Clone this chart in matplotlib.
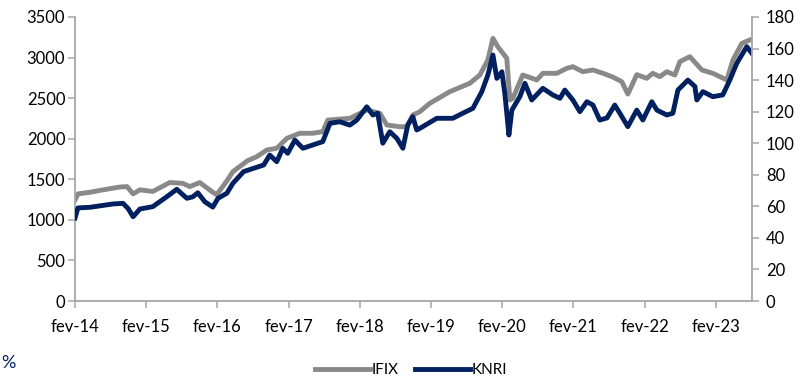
import matplotlib
matplotlib.use("Agg")
import matplotlib.pyplot as plt
import matplotlib.dates as mdates
from matplotlib.ticker import FuncFormatter
import pandas as pd

plt.rcParams['font.family'] = ['Lato', 'DejaVu Sans']

ifix_dates = ["2014-02-01", "2014-02-16", "2014-04-19", "2014-06-25", "2014-09-20", "2014-10-26",
              "2014-11-26", "2014-12-31", "2015-03-07", "2015-06-02", "2015-08-08", "2015-09-13",
              "2015-11-03", "2016-01-09", "2016-01-29", "2016-03-21", "2016-04-21", "2016-07-06",
              "2016-08-22", "2016-10-12", "2016-12-02", "2017-01-23", "2017-03-30", "2017-06-05",
              "2017-07-26", "2017-08-21", "2017-12-12", "2018-03-09", "2018-05-15", "2018-06-20",
              "2018-08-25", "2018-09-30", "2018-10-31", "2018-12-06", "2019-01-26", "2019-05-09",
              "2019-08-19", "2019-10-10", "2019-11-20", "2019-12-16", "2020-01-10", "2020-02-25",
              "2020-03-12", "2020-03-27", "2020-05-17", "2020-07-28", "2020-08-28", "2020-11-08",
              "2020-12-29", "2021-01-29", "2021-03-21", "2021-05-12", "2021-07-03", "2021-08-22",
              "2021-10-07", "2021-11-07", "2021-12-23", "2022-02-12", "2022-03-15", "2022-04-20",
              "2022-05-26", "2022-07-06", "2022-08-01", "2022-09-21", "2022-11-22", "2023-01-17",
              "2023-03-30", "2023-04-30", "2023-06-15", "2023-07-26"]
ifix_values = [1245, 1320, 1340, 1370, 1405, 1410,
               1320, 1370, 1350, 1460, 1450, 1410,
               1460, 1340, 1310, 1480, 1594, 1730,
               1779, 1861, 1882, 2005, 2067, 2067,
               2087, 2230, 2251, 2354, 2313, 2169,
               2148, 2148, 2292, 2333, 2436, 2580,
               2683, 2785, 2970, 3237, 3134, 2991,
               2477, 2498, 2785, 2724, 2806, 2806,
               2868, 2888, 2826, 2847, 2806, 2760,
               2703, 2550, 2790, 2744, 2806, 2765,
               2826, 2785, 2949, 3011, 2847, 2806,
               2724, 2970, 3175, 3217]

knri_dates = ["2014-02-01", "2014-02-16", "2014-04-19", "2014-08-15", "2014-10-05", "2014-10-31",
              "2014-11-26", "2014-12-31", "2015-03-07", "2015-05-18", "2015-07-08", "2015-08-29",
              "2015-09-28", "2015-10-24", "2015-11-29", "2016-01-09", "2016-02-04", "2016-03-21",
              "2016-04-21", "2016-06-15", "2016-08-05", "2016-09-26", "2016-10-27", "2016-12-02",
              "2017-01-02", "2017-01-27", "2017-03-05", "2017-04-15", "2017-06-05", "2017-07-26",
              "2017-09-01", "2017-10-21", "2017-12-12", "2018-01-17", "2018-03-09",
              "2018-04-09", "2018-05-04", "2018-05-30", "2018-07-05", "2018-08-10", "2018-09-10",
              "2018-10-05", "2018-10-31", "2018-11-20", "2018-12-06", "2019-03-03", "2019-05-24",
              "2019-07-14", "2019-09-04", "2019-10-20", "2019-11-20", "2019-12-16", "2020-01-05",
              "2020-01-31", "2020-02-15", "2020-02-25", "2020-03-07", "2020-03-22", "2020-05-02",
              "2020-05-28", "2020-07-02", "2020-08-28", "2020-10-18", "2020-11-24", "2020-12-19",
              "2021-01-29", "2021-03-06", "2021-04-11", "2021-05-12", "2021-06-16", "2021-07-23",
              "2021-09-01", "2021-09-27", "2021-11-07", "2021-12-23", "2022-01-23", "2022-03-10",
              "2022-04-05", "2022-05-26", "2022-06-26", "2022-07-22", "2022-09-11", "2022-10-17",
              "2022-10-27", "2022-11-27", "2023-01-17", "2023-03-09", "2023-04-14", "2023-05-20",
              "2023-07-10", "2023-08-05"]
knri_values = [52.6, 59.0, 59.4, 61.5, 61.9, 58.7,
               53.4, 58.3, 59.8, 66.1, 70.8, 65.1,
               66.0, 68.6, 62.9, 59.5, 65.0, 68.3,
               74.6, 82.0, 84.1, 86.2, 92.5, 88.3,
               96.8, 93.6, 102.0, 96.8, 98.9, 101.0,
               112.6, 113.6, 111.5, 114.7, 123.1,
               117.9, 119.0, 100.0, 107.3, 103.1, 96.8,
               111.5, 116.8, 108.4, 109.4, 115.8, 115.8,
               119.0, 122.1, 132.7, 143.2, 155.9, 141.1,
               145.3, 131.6, 119.0, 105.2, 121.0, 129.5,
               138.0, 127.4, 134.8, 130.6, 128.5, 133.7,
               127.4, 120.0, 126.3, 124.2, 114.7, 116.0,
               124.2, 119.0, 110.5, 121.0, 114.7, 126.3,
               121.0, 117.9, 119.0, 133.7, 140.0, 136.0,
               127.4, 132.7, 129.5, 130.6, 140.0, 150.7,
               161.2, 157.0]

series_names = ["IFIX", "KNRI"]
left_ticks = [0, 500, 1000, 1500, 2000, 2500, 3000, 3500]
right_ticks = [0, 20, 40, 60, 80, 100, 120, 140, 160, 180]

gray = "#898989"
navy = "#002060"
spine_c = "#a6a6a6"

fig = plt.figure(figsize=(8.04, 3.78), dpi=100)
ax = fig.add_axes([75/804, 77/378, (752-75)/804, (301-17)/378])
ax2 = ax.twinx()

ax.plot(pd.to_datetime(ifix_dates), ifix_values, color=gray, lw=3.5, solid_joinstyle='round', label=series_names[0])
ax2.plot(pd.to_datetime(knri_dates), knri_values, color=navy, lw=3.5, solid_joinstyle='round', label=series_names[1])

ax.set_xlim(pd.Timestamp("2014-02-01"), pd.Timestamp("2023-08-06"))
ax.set_ylim(0, 3500)
ax2.set_ylim(0, 180)
ax.set_yticks(left_ticks)
ax2.set_yticks(right_ticks)
ax.xaxis.set_major_locator(mdates.MonthLocator(bymonth=2, bymonthday=1))
ax.xaxis.set_major_formatter(FuncFormatter(lambda v, p: "fev-%02d" % (mdates.num2date(v).year % 100)))

for a in (ax, ax2):
    a.spines["top"].set_visible(False)
    for s in ("left", "right", "bottom"):
        a.spines[s].set_color(spine_c)
        a.spines[s].set_linewidth(1.3)
    a.tick_params(axis='both', colors=spine_c, labelcolor='black', labelsize=12, length=5, width=1.1)
ax.spines['right'].set_visible(False)
ax2.spines['left'].set_visible(False)
ax2.spines['bottom'].set_visible(False)
ax.tick_params(axis='x', pad=8)
ax.tick_params(axis='y', pad=2)
ax2.tick_params(axis='y', pad=5)

h1, l1 = ax.get_legend_handles_labels()
h2, l2 = ax2.get_legend_handles_labels()
fig.legend(h1 + h2, l1 + l2, loc='center', bbox_to_anchor=(411/804, 1 - 370/378), ncol=2,
           frameon=False, fontsize=11, handlelength=3.6, handletextpad=0.1, columnspacing=1.1)

fig.text(1/804, 1 - 363/378, "%", fontsize=13, color=navy, ha='left', va='center')

fig.savefig("out.png", dpi=100)
